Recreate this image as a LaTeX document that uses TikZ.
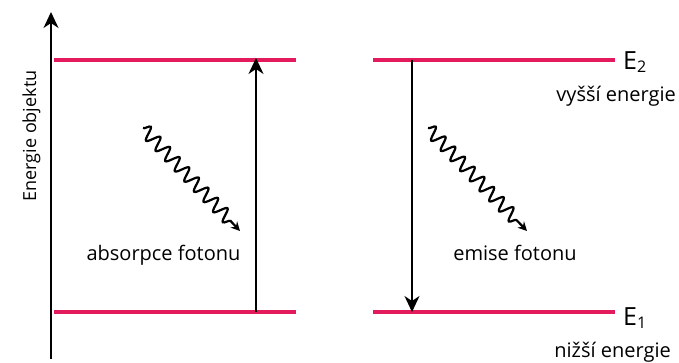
\documentclass[tikz,border=0pt]{standalone}
\usepackage{fontspec}
\setmainfont{Open Sans}
\usetikzlibrary{arrows.meta,decorations.pathmorphing}

\definecolor{levelred}{RGB}{227,27,92}

\begin{document}
\begin{tikzpicture}[x=1pt,y=-1pt,
    arr/.style={-{Stealth[length=16pt,width=15pt,inset=5pt]},line width=1.8pt},
    level/.style={levelred,line width=4pt},
    photon/.style={-{Stealth[length=9pt,width=9pt,inset=3pt]},line width=2.2pt,
      decorate,decoration={snake,segment length=14pt,amplitude=6.5pt,post length=9pt}},
    lbl/.style={font=\fontsize{20}{24}\selectfont,inner sep=0pt}]
    \useasboundingbox (0,0) rectangle (679,363);

    % energy axis
    \coordinate (axbot) at (51,359);
    \coordinate (axtop) at (51,12);
    \draw[arr] (axbot) -- (axtop);
    \node[lbl,rotate=90,anchor=base,font=\fontsize{18}{22}\selectfont] (axlbl) at (36,136) {Energie objektu};

    % levels
    \coordinate (a2l) at (54,60);  \coordinate (a2r) at (296,60);
    \coordinate (a1l) at (54,312); \coordinate (a1r) at (296,312);
    \coordinate (e2l) at (373,60);  \coordinate (e2r) at (615,60);
    \coordinate (e1l) at (373,312); \coordinate (e1r) at (615,312);
    \draw[level] (a2l) -- (a2r);
    \draw[level] (a1l) -- (a1r);
    \draw[level] (e2l) -- (e2r);
    \draw[level] (e1l) -- (e1r);

    % transitions
    \coordinate (absbot) at (256,312);
    \coordinate (abstop) at (256,58);
    \coordinate (emtop) at (412,60);
    \coordinate (embot) at (412,312);
    \draw[arr] (absbot) -- (abstop);
    \draw[arr] (emtop) -- (embot);

    % photons
    \coordinate (p1s) at (143,128); \coordinate (p1e) at (240,231);
    \coordinate (p2s) at (428,128); \coordinate (p2e) at (527,231);
    \draw[photon] (p1s) -- (p1e);
    \draw[photon] (p2s) -- (p2e);
    \node[lbl,anchor=base] (abslbl) at (163.5,260) {absorpce fotonu};
    \node[lbl,anchor=base] (emlbl) at (515,260) {emise fotonu};

    % level names
    \node[lbl,anchor=base west,font=\fontsize{25}{28}\selectfont] (E2) at (623,70)
      {E\raisebox{-3pt}{\fontsize{16}{16}\selectfont 2}};
    \node[lbl,anchor=base west,font=\fontsize{25}{28}\selectfont] (E1) at (623,325)
      {E\raisebox{-3pt}{\fontsize{16}{16}\selectfont 1}};
    \node[lbl,anchor=base east] (hilbl) at (676,102) {vyšší energie};
    \node[lbl,anchor=base east] (lolbl) at (671,357) {nižší energie};
\end{tikzpicture}
\end{document}
